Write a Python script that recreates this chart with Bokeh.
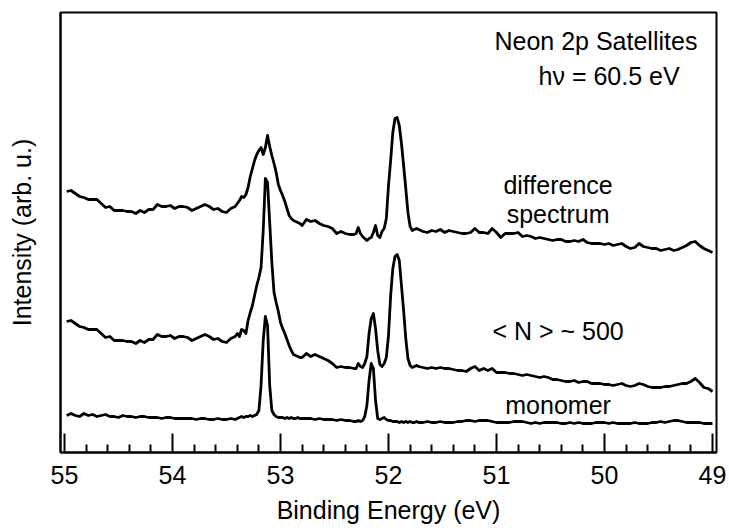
from bokeh.plotting import figure
from bokeh.models import Range1d, FixedTicker, Label
from bokeh.embed import file_html
from bokeh.resources import INLINE

# Binding energy grid (eV)
energy = [
    54.98, 54.94, 54.90, 54.86, 54.82, 54.78, 54.74, 54.70, 54.66, 54.62,
    54.58, 54.54, 54.50, 54.46, 54.42, 54.38, 54.34, 54.30, 54.26, 54.22,
    54.18, 54.14, 54.10, 54.06, 54.02, 53.98, 53.94, 53.90, 53.86, 53.82,
    53.78, 53.74, 53.70, 53.66, 53.62, 53.58, 53.54, 53.50, 53.46, 53.42,
    53.40,
    53.38, 53.36, 53.34, 53.32, 53.30, 53.28, 53.26, 53.24, 53.22, 53.20,
    53.18, 53.16, 53.14, 53.12, 53.10, 53.08, 53.06, 53.04, 53.02, 53.00,
    52.98, 52.96, 52.94, 52.92, 52.90, 52.88, 52.86, 52.84, 52.82, 52.80,
    52.76, 52.72, 52.68, 52.64, 52.60, 52.56, 52.52, 52.48, 52.44, 52.40,
    52.36, 52.32,
    52.30, 52.28, 52.26, 52.24, 52.22, 52.20, 52.18, 52.16, 52.14, 52.12,
    52.10, 52.08, 52.06, 52.04, 52.02, 52.00, 51.98, 51.96, 51.94, 51.92,
    51.90, 51.88, 51.86, 51.84, 51.82, 51.80, 51.78, 51.76, 51.74, 51.72,
    51.68, 51.64, 51.60, 51.56, 51.52, 51.48, 51.44, 51.40, 51.36, 51.32,
    51.28, 51.24, 51.20, 51.16, 51.12, 51.08, 51.04, 51.00, 50.96, 50.92,
    50.88, 50.84, 50.80, 50.76, 50.72, 50.68, 50.64, 50.60, 50.56, 50.52,
    50.48, 50.44, 50.40, 50.36, 50.32, 50.28, 50.24, 50.20, 50.16, 50.12,
    50.08, 50.04, 50.00, 49.96, 49.92, 49.88, 49.84, 49.80, 49.76, 49.72,
    49.68, 49.64, 49.60, 49.56, 49.52, 49.48, 49.44, 49.40, 49.36, 49.32,
    49.28, 49.24, 49.20, 49.16, 49.12, 49.08, 49.04, 49.00,
]

# Intensities (arb. u., offset traces as in the figure)
difference = [
    261, 262, 259, 256, 255, 253, 253, 253, 249, 245,
    246, 242, 242, 242, 241, 241, 239, 242, 240, 243,
    243, 248, 246, 246, 247, 244, 246, 246, 245, 242,
    244, 246, 248, 246, 243, 244, 241, 240, 244, 246,
    249,
    252, 256, 255, 258, 265, 276, 284, 292, 298, 302,
    305, 298, 305, 317, 306, 297, 289, 280, 268, 262,
    257, 251, 244, 237, 234, 232, 231, 230, 229, 227,
    233, 231, 232, 229, 227, 226, 224, 219, 221, 219,
    218, 218,
    219, 225, 219, 216, 214, 212, 214, 215, 220, 227,
    217, 215, 221, 224, 234, 267, 292, 320, 334, 335,
    327, 309, 287, 264, 240, 226, 222, 223, 224, 223,
    221, 220, 222, 221, 223, 220, 222, 221, 220, 219,
    219, 220, 224, 220, 220, 219, 224, 220, 215, 219,
    219, 219, 220, 216, 217, 216, 214, 215, 214, 213,
    212, 213, 213, 211, 211, 212, 211, 213, 210, 209,
    209, 209, 208, 209, 207, 208, 209, 206, 204, 205,
    209, 206, 205, 204, 204, 202, 203, 204, 202, 203,
    205, 207, 210, 211, 207, 204, 202, 200,
]

cluster_500 = [
    131, 132, 129, 126, 125, 123, 123, 123, 119, 115,
    116, 112, 112, 112, 111, 111, 109, 112, 110, 113,
    113, 118, 116, 116, 117, 114, 116, 116, 115, 112,
    114, 116, 118, 116, 113, 114, 111, 110, 114, 116,
    119,
    116, 123, 122, 119, 132, 140, 147, 157, 167, 175,
    185, 222, 274, 270, 230, 190, 160, 150, 141, 130,
    124, 119, 113, 107, 102, 98, 97, 96, 95, 95,
    99, 96, 98, 96, 94, 92, 89, 85, 86, 85,
    85, 84,
    84, 89, 86, 85, 89, 96, 119, 134, 139, 124,
    102, 88, 86, 89, 95, 117, 157, 184, 196, 198,
    192, 167, 142, 114, 94, 87, 85, 86, 87, 86,
    85, 84, 85, 84, 85, 84, 84, 83, 82, 82,
    81, 84, 86, 82, 84, 82, 84, 80, 80, 80,
    79, 79, 78, 77, 78, 77, 76, 75, 76, 75,
    73, 73, 72, 71, 71, 72, 70, 71, 71, 69,
    69, 69, 68, 68, 67, 68, 69, 67, 66, 67,
    69, 68, 66, 65, 65, 65, 66, 66, 67, 68,
    69, 69, 71, 74, 70, 65, 64, 61,
]

monomer = [
    37, 39, 37, 36, 39, 37, 38, 36, 37, 38,
    36, 36, 35, 37, 36, 36, 35, 36, 36, 35,
    35, 35, 34, 35, 35, 34, 34, 34, 34, 34,
    33, 34, 34, 33, 33, 34, 33, 33, 34, 33,
    34,
    35, 36, 35, 36, 36, 37, 36, 37, 38, 42,
    67, 112, 136, 127, 67, 42, 38, 36, 35, 35,
    35, 34, 35, 34, 35, 34, 34, 35, 34, 34,
    34, 34, 33, 34, 33, 33, 33, 32, 33, 32,
    32, 31,
    31, 32, 31, 32, 36, 47, 72, 89, 84, 52,
    34, 33, 34, 35, 33, 32, 32, 31, 31, 31,
    30, 31, 30, 31, 30, 31, 30, 30, 31, 30,
    30, 31, 30, 30, 31, 30, 30, 30, 31, 31,
    32, 32, 31, 32, 32, 32, 31, 30, 30, 30,
    30, 31, 31, 31, 30, 29, 30, 29, 30, 30,
    30, 30, 29, 29, 30, 29, 30, 29, 29, 29,
    30, 30, 30, 29, 30, 29, 29, 29, 29, 30,
    29, 29, 29, 30, 30, 31, 30, 31, 32, 32,
    31, 30, 30, 30, 30, 29, 29, 29,
]

major_ticks = [55, 54, 53, 52, 51, 50, 49]
minor_ticks = [54.8, 54.6, 54.4, 54.2, 53.8, 53.6, 53.4, 53.2, 52.8, 52.6, 52.4, 52.2,
               51.8, 51.6, 51.4, 51.2, 50.8, 50.6, 50.4, 50.2, 49.8, 49.6, 49.4, 49.2]

FONT = "Liberation Sans"
FS = "25px"

p = figure(width=729, height=530, output_backend="svg", toolbar_location=None,
           x_range=Range1d(55.037, 48.963), y_range=Range1d(0, 440),
           min_border_left=60, min_border_right=13, min_border_top=12,
           min_border_bottom=78)
p.grid.visible = False
p.background_fill_color = "white"
p.border_fill_color = "white"
p.outline_line_color = "black"
p.outline_line_width = 2

xa = p.xaxis[0]
xa.ticker = FixedTicker(ticks=major_ticks, minor_ticks=minor_ticks)
xa.axis_line_width = 2
xa.major_tick_in = 19
xa.major_tick_out = 0
xa.minor_tick_in = 8
xa.minor_tick_out = 0
xa.major_tick_line_width = 2
xa.minor_tick_line_width = 2
xa.major_label_text_font = FONT
xa.major_label_text_font_size = FS
xa.major_label_text_color = "black"
xa.major_label_standoff = 13
xa.axis_label = "Binding Energy (eV)"
xa.axis_label_text_font = FONT
xa.axis_label_text_font_size = FS
xa.axis_label_text_font_style = "normal"
xa.axis_label_text_color = "black"
xa.axis_label_standoff = 9

ya = p.yaxis[0]
ya.ticker = FixedTicker(ticks=[])
ya.axis_line_width = 2
ya.major_tick_out = 0
ya.major_tick_in = 0
ya.minor_tick_out = 0
ya.minor_tick_in = 0
ya.axis_label = "Intensity (arb. u.)"
ya.axis_label_text_font = FONT
ya.axis_label_text_font_size = FS
ya.axis_label_text_font_style = "normal"
ya.axis_label_text_color = "black"
ya.axis_label_standoff = 25

for series in (difference, cluster_500, monomer):
    p.line(energy, series, line_color="black", line_width=2.8, line_join="round")

labels = [
    ("Neon 2p Satellites", 49.14, 412, "right"),
    ("h\u03bd =  60.5 eV", 49.24, 377, "right"),
    ("difference", 50.43, 268, "center"),
    ("spectrum", 50.43, 239, "center"),
    ("< N > ~ 500", 50.43, 122, "center"),
    ("monomer", 50.43, 48, "center"),
]
for txt, x, y, al in labels:
    p.add_layout(Label(x=x, y=y, text=txt, text_align=al, text_baseline="middle",
                       text_font=FONT, text_font_size=FS, text_color="black"))

open("out.html", "w").write(file_html(p, INLINE))
